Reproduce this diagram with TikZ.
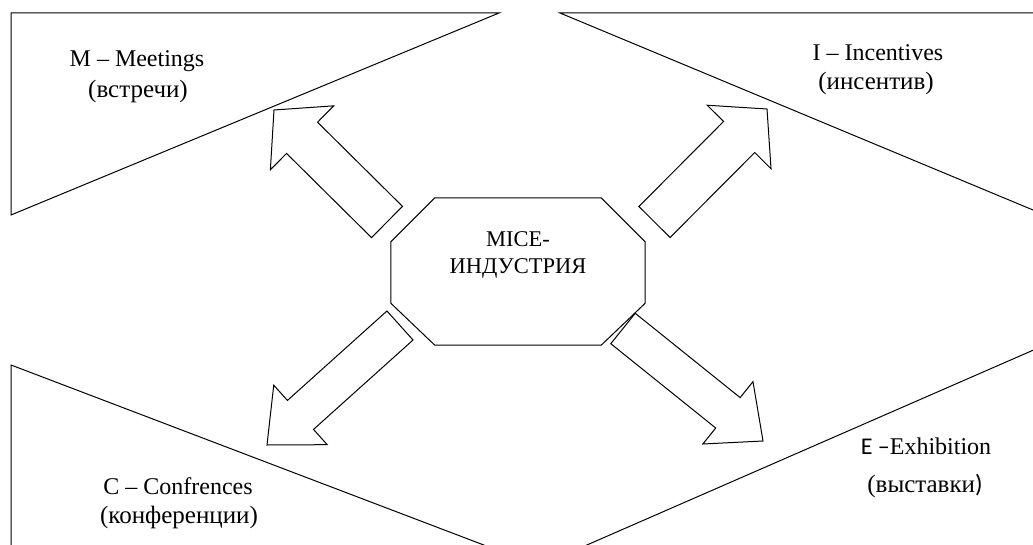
\documentclass[tikz,border=0pt]{standalone}
\usepackage{fontspec}
\setmainfont{Liberation Serif}
\newfontfamily\calibrisub{Carlito}
\usetikzlibrary{calc, positioning}

\tikzset{
  zone/.style={draw=black, line width=1pt, fill=white},
  octo/.style={minimum width=254pt, minimum height=147pt, inner sep=0pt},
  octline/.style={draw, line width=1pt, fill=white, line join=miter},
  lbl/.style={anchor=base, inner sep=0pt, font=\fontsize{24}{28}\selectfont},
  rulbl/.style={lbl, font=\fontsize{25}{29}\selectfont},
  midlbl/.style={lbl, font=\fontsize{22.5}{27}\selectfont},
  blockarr/.style={draw, fill=white, line width=1pt, line join=miter}
}

% tail, tip, half shaft width, half head width, head length
\newcommand{\blockarrow}[5]{%
  \coordinate (ba-b) at ($(#2)!#5!(#1)$);
  \draw[blockarr] ($(#1)!#3!90:(#2)$) -- ($(ba-b)!#3!90:(#2)$)
    -- ($(ba-b)!#4!90:(#2)$) -- (#2) -- ($(ba-b)!#4!-90:(#2)$)
    -- ($(ba-b)!#3!-90:(#2)$) -- ($(#1)!#3!-90:(#2)$) -- cycle;
}

\begin{document}
\begin{tikzpicture}[x=1pt, y=-1pt]
\useasboundingbox (0,0) rectangle (1033,545);

% corner zones
\draw[zone] (11,13) -- (499,13) -- (11,215) -- cycle;
\draw[zone] (560,13) -- (1045,13) -- (1045,215) -- cycle;
\draw[zone] (11,365) -- (510,555) -- (11,555) -- cycle;
\draw[zone] (564,555) -- (1045,345) -- (1045,555) -- cycle;

% centre octagon
\node[octo] (mice) at (518,271.5) {};
\draw[octline] ($(mice.north west)+(44,0)$) -- ($(mice.north east)+(-44,0)$)
  -- ($(mice.north east)+(0,44)$) -- ($(mice.south east)+(0,-42)$)
  -- ($(mice.south east)+(-44,0)$) -- ($(mice.south west)+(44,0)$)
  -- ($(mice.south west)+(0,-42)$) -- ($(mice.north west)+(0,44)$) -- cycle;
\node[midlbl] (mice1) at (518,247) {MICE-};
\node[midlbl] (mice2) at (518,274) {ИНДУСТРИЯ};

% labels
\node[lbl] (meet1) at (137,67) {M – Meetings};
\node[rulbl] (meet2) at (138,98) {(встречи)};
\node[lbl] (inc1) at (878,61) {I – Incentives};
\node[rulbl] (inc2) at (876,90) {(инсентив)};
\node[lbl] (conf1) at (178,494) {C – Confrences};
\node[rulbl] (conf2) at (179,523) {(конференции)};
\node[lbl] (exh1) at (926,454) {{\calibrisub E –}Exhibition};
\node[rulbl] (exh2) at (925,492) {(выставки{\calibrisub )}};

% arrows
\coordinate (mtail) at (387,222);   \coordinate (mtip) at (274,110);
\coordinate (itail) at (654.5,222); \coordinate (itip) at (767,109);
\coordinate (ctail) at (400,325.5); \coordinate (ctip) at (267,445);
\coordinate (etail) at (623,328.5); \coordinate (etip) at (763,441);
\blockarrow{mtail}{mtip}{22pt}{45pt}{39.5pt}
\blockarrow{itail}{itip}{22pt}{45pt}{39.5pt}
\blockarrow{ctail}{ctip}{19.5pt}{40pt}{45pt}
\blockarrow{etail}{etip}{19.5pt}{40pt}{45pt}
\end{tikzpicture}
\end{document}
